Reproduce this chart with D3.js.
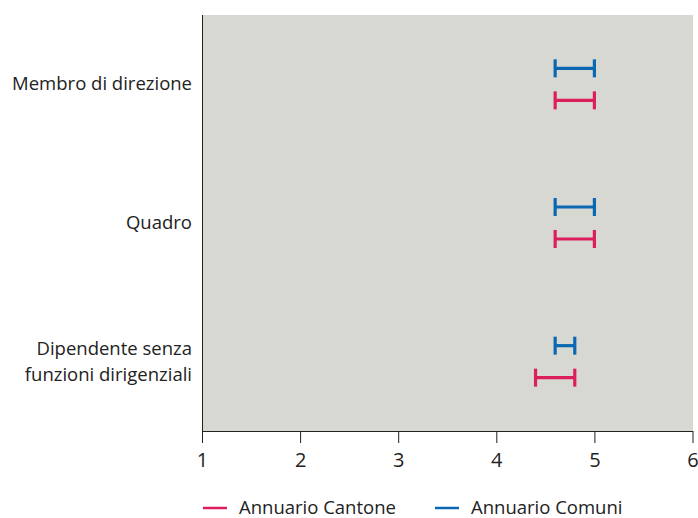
<!DOCTYPE html>
<html>
<head>
<meta charset="utf-8">
<script src="https://cdn.jsdelivr.net/npm/d3@7"></script>
<style>
  body { margin: 0; background: #fff; }
  svg text { font-family: "Open Sans", "Lato", sans-serif; fill: #222; }
</style>
</head>
<body>
<div id="chart"></div>
<script>
// data
const categories = ["Membro di direzione", "Quadro", "Dipendente senza\nfunzioni dirigenziali"];
const seriesNames = ["Annuario Comuni", "Annuario Cantone"];
const comuniLow = [4.6, 4.6, 4.6];
const comuniHigh = [5.0, 5.0, 4.8];
const cantoneLow = [4.6, 4.6, 4.4];
const cantoneHigh = [5.0, 5.0, 4.8];
const xTicks = [1, 2, 3, 4, 5, 6];

const colors = { "Annuario Comuni": "#0a68b3", "Annuario Cantone": "#dc1f5c" };

const width = 698, height = 518;
const margin = { top: 15, right: 5, bottom: 87, left: 202 };
const innerW = width - margin.left - margin.right;
const innerH = height - margin.top - margin.bottom;

const svg = d3.select("#chart").append("svg")
    .attr("width", width)
    .attr("height", height);

const g = svg.append("g")
    .attr("transform", `translate(${margin.left},${margin.top})`);

const x = d3.scaleLinear().domain([1, 6]).range([0, innerW - 0.5]);
const y = d3.scaleBand().domain(categories).range([0, innerH]);
const offset = d3.scalePoint().domain(seriesNames).range([-16, 16]);

// plot background
g.append("rect")
    .attr("width", innerW)
    .attr("height", innerH)
    .attr("fill", "#d8d8d3");

// left axis line
g.append("line")
    .attr("x1", 0.5).attr("x2", 0.5)
    .attr("y1", 0).attr("y2", innerH)
    .attr("stroke", "#222").attr("stroke-width", 1);

// x axis
const xAxis = g.append("g")
    .attr("transform", `translate(0,${innerH})`)
    .call(d3.axisBottom(x).tickValues(xTicks).tickFormat(d3.format("d"))
        .tickSize(12).tickSizeOuter(0).tickPadding(10));
xAxis.select(".domain").attr("stroke", "#222");
xAxis.selectAll(".tick line").attr("stroke", "#222");
xAxis.selectAll("text")
    .style("font-size", "20px")
    .style("font-family", "'Open Sans', Lato, sans-serif")
    .attr("fill", "#222");

// category labels
categories.forEach(c => {
    const lines = c.split("\n");
    const cy = y(c) + y.bandwidth() / 2;
    const t = g.append("text")
        .attr("x", -10)
        .attr("text-anchor", "end")
        .style("font-size", "18.5px");
    lines.forEach((ln, i) => {
        t.append("tspan")
            .attr("x", -10)
            .attr("y", cy + 6 + (i - (lines.length - 1) / 2) * 26)
            .text(ln);
    });
});

// error bars
const rows = [];
categories.forEach((c, i) => {
    rows.push({ cat: c, series: "Annuario Comuni", lo: comuniLow[i], hi: comuniHigh[i] });
    rows.push({ cat: c, series: "Annuario Cantone", lo: cantoneLow[i], hi: cantoneHigh[i] });
});

const bars = g.selectAll(".bar")
    .data(rows)
    .enter()
    .append("g")
    .attr("class", "bar")
    .attr("stroke", d => colors[d.series])
    .attr("stroke-width", 3.2);

bars.append("line")
    .attr("x1", d => x(d.lo)).attr("x2", d => x(d.hi))
    .attr("y1", d => y(d.cat) + y.bandwidth() / 2 + offset(d.series))
    .attr("y2", d => y(d.cat) + y.bandwidth() / 2 + offset(d.series));

bars.append("line")
    .attr("x1", d => x(d.lo)).attr("x2", d => x(d.lo))
    .attr("y1", d => y(d.cat) + y.bandwidth() / 2 + offset(d.series) - 9)
    .attr("y2", d => y(d.cat) + y.bandwidth() / 2 + offset(d.series) + 9);

bars.append("line")
    .attr("x1", d => x(d.hi)).attr("x2", d => x(d.hi))
    .attr("y1", d => y(d.cat) + y.bandwidth() / 2 + offset(d.series) - 9)
    .attr("y2", d => y(d.cat) + y.bandwidth() / 2 + offset(d.series) + 9);

// legend
const legendItems = [
    { name: "Annuario Cantone", x: 203 },
    { name: "Annuario Comuni", x: 435 }
];
const legend = svg.append("g").attr("transform", "translate(0,508)");
legendItems.forEach(it => {
    legend.append("line")
        .attr("x1", it.x).attr("x2", it.x + 24)
        .attr("y1", 0).attr("y2", 0)
        .attr("stroke", colors[it.name])
        .attr("stroke-width", 2.5);
    legend.append("text")
        .attr("x", it.x + 36)
        .attr("y", 6)
        .style("font-size", "18.5px")
        .text(it.name);
});
</script>
</body>
</html>
